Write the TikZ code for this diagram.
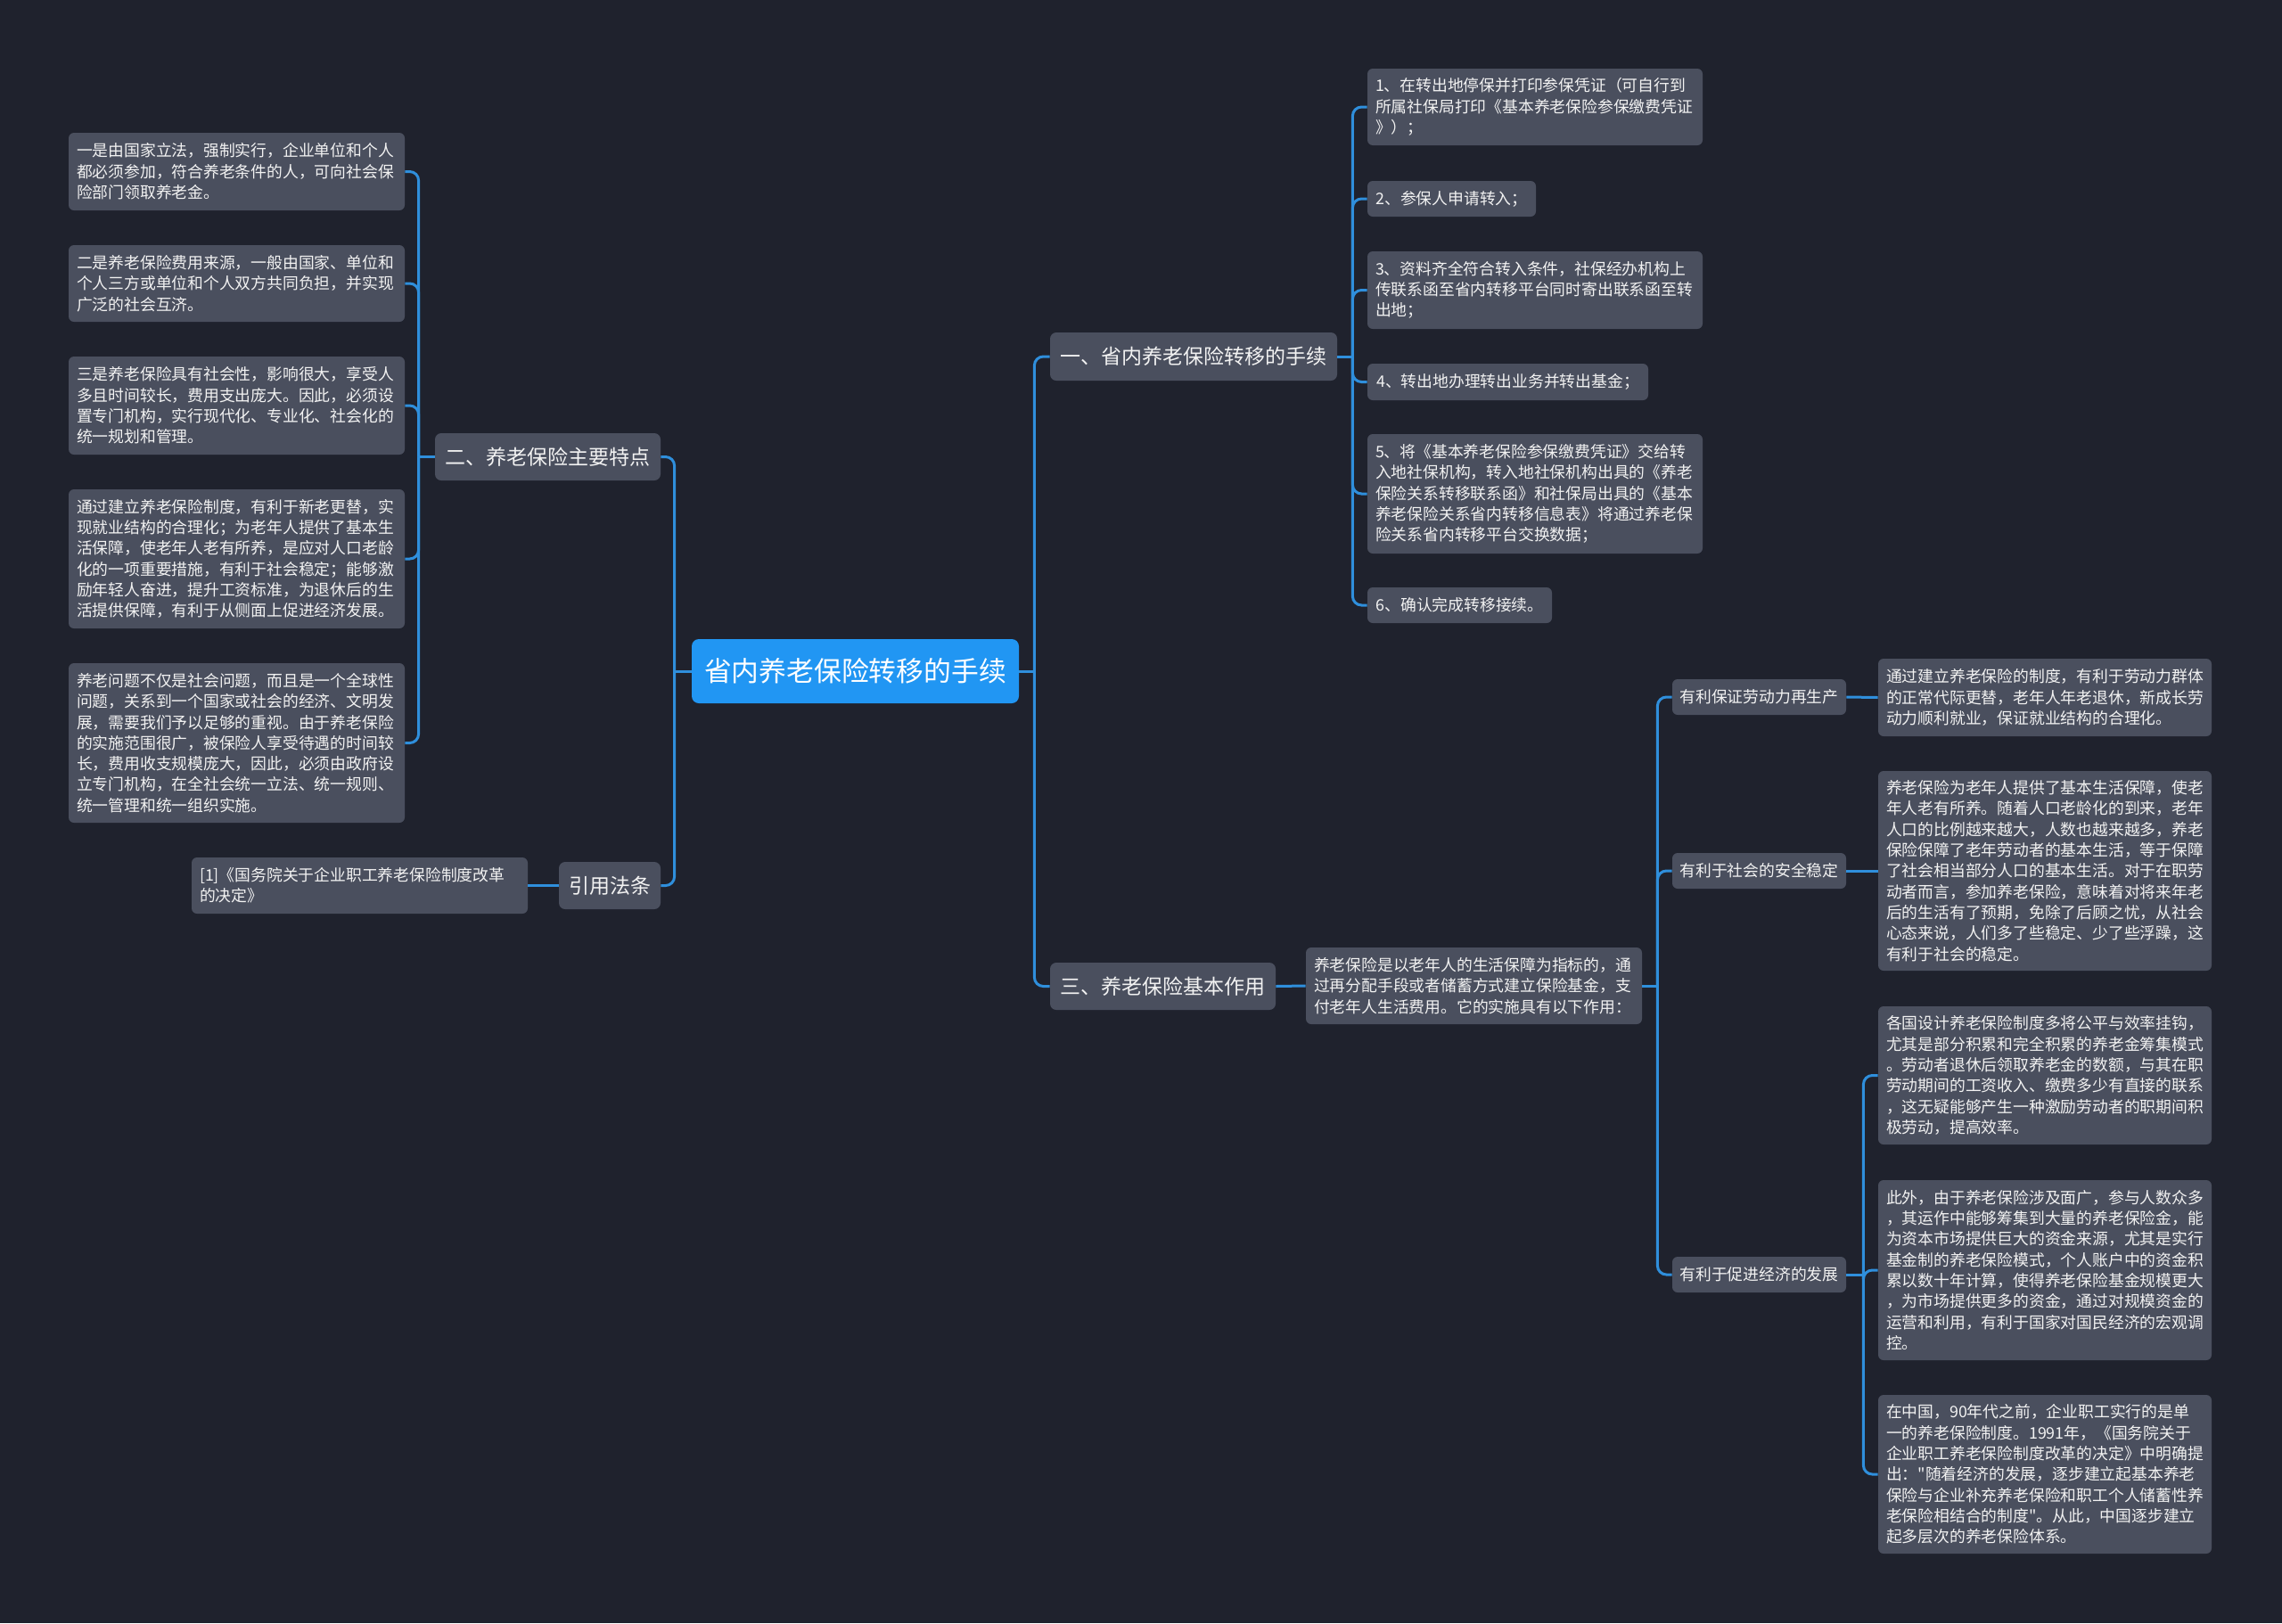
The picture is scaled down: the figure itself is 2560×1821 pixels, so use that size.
\documentclass[tikz,border=0pt]{standalone}
\usepackage{fontspec}
\setmainfont{Noto Sans CJK SC}[Ligatures=TeXOff]
\definecolor{bgc}{HTML}{1F222D}
\definecolor{boxc}{HTML}{4A4F5E}
\definecolor{rootc}{HTML}{2196F3}
\definecolor{linec}{HTML}{2F8FDC}
\definecolor{txtc}{HTML}{F2F2F2}
\tikzset{
  box/.style={fill=boxc, rounded corners=3pt, text=txtc, align=left,
    inner xsep=4.5pt, inner ysep=2pt, font=\fontsize{8.9pt}{11.65pt}\selectfont},
  lbl/.style={fill=boxc, rounded corners=3pt, text=txtc, inner xsep=2pt, inner ysep=2pt,
    font=\fontsize{8.9pt}{11.65pt}\selectfont},
  brn/.style={fill=boxc, rounded corners=3.5pt, text=txtc, inner xsep=2pt, inner ysep=2pt,
    font=\fontsize{11.5pt}{14pt}\selectfont},
  rootn/.style={fill=rootc, rounded corners=4pt, text=white, inner xsep=2pt, inner ysep=2pt,
    font=\fontsize{15.4pt}{18pt}\selectfont},
  conn/.style={draw=linec, line width=1.5pt, rounded corners=5pt},
}
\begin{document}
\begin{tikzpicture}[x=0.5pt,y=-0.5pt]
\fill[bgc] (0,0) rectangle (2560,1821);
\useasboundingbox (0,0) rectangle (2560,1821);

% root
\node[rootn, minimum width=183.5pt, minimum height=36pt] (root) at (959.5,753) {省内养老保险转移的手续};

% left branches
\node[brn, minimum width=126.5pt, minimum height=26.5pt] (b2) at (614.5,512.5) {二、养老保险主要特点};
\node[brn, minimum width=57pt, minimum height=26.5pt] (bref) at (684,993.5) {引用法条};

\node[box, text width=179.5pt, minimum height=43.5pt] (l1) at (265.5,192.5) {一是由国家立法，强制实行，企业单位和个人\\都必须参加，符合养老条件的人，可向社会保\\险部门领取养老金。};
\node[box, text width=179.5pt, minimum height=43pt] (l2) at (265.5,318) {二是养老保险费用来源，一般由国家、单位和\\个人三方或单位和个人双方共同负担，并实现\\广泛的社会互济。};
\node[box, text width=179.5pt, minimum height=55pt] (l3) at (265.5,455) {三是养老保险具有社会性，影响很大，享受人\\多且时间较长，费用支出庞大。因此，必须设\\置专门机构，实行现代化、专业化、社会化的\\统一规划和管理。};
\node[box, text width=179.5pt, minimum height=78pt] (l4) at (265.5,627) {通过建立养老保险制度，有利于新老更替，实\\现就业结构的合理化；为老年人提供了基本生\\活保障，使老年人老有所养，是应对人口老龄\\化的一项重要措施，有利于社会稳定；能够激\\励年轻人奋进，提升工资标准，为退休后的生\\活提供保障，有利于从侧面上促进经济发展。};
\node[box, text width=179.5pt, minimum height=89.5pt] (l5) at (265.5,833.5) {养老问题不仅是社会问题，而且是一个全球性\\问题，关系到一个国家或社会的经济、文明发\\展，需要我们予以足够的重视。由于养老保险\\的实施范围很广，被保险人享受待遇的时间较\\长，费用收支规模庞大，因此，必须由政府设\\立专门机构，在全社会统一立法、统一规则、\\统一管理和统一组织实施。};
\node[box, text width=179.5pt, minimum height=31.5pt] (ref) at (403.5,993.5) {[1]《国务院关于企业职工养老保险制度改革\\的决定》};

% right branch one
\node[brn, minimum width=161pt, minimum height=27pt] (b1) at (1339,400) {一、省内养老保险转移的手续};
\node[box, text width=179pt, minimum height=43pt] (s1) at (1722,120) {1、在转出地停保并打印参保凭证（可自行到\\所属社保局打印《基本养老保险参保缴费凭证\\》）；};
\node[lbl, minimum width=94.5pt, minimum height=20pt] (s2) at (1628.5,223) {2、参保人申请转入；};
\node[box, text width=179pt, minimum height=43.5pt] (s3) at (1722,325.5) {3、资料齐全符合转入条件，社保经办机构上\\传联系函至省内转移平台同时寄出联系函至转\\出地；};
\node[lbl, minimum width=157.5pt, minimum height=20.5pt] (s4) at (1691.5,428.5) {4、转出地办理转出业务并转出基金；};
\node[box, text width=179pt, minimum height=67pt] (s5) at (1722,554) {5、将《基本养老保险参保缴费凭证》交给转\\入地社保机构，转入地社保机构出具的《养老\\保险关系转移联系函》和社保局出具的《基本\\养老保险关系省内转移信息表》将通过养老保\\险关系省内转移平台交换数据；};
\node[lbl, minimum width=103.5pt, minimum height=20pt] (s6) at (1637.5,679) {6、确认完成转移接续。};

% right branch three
\node[brn, minimum width=126.5pt, minimum height=26.5pt] (b3) at (1304.5,1106.5) {三、养老保险基本作用};
\node[box, text width=179.5pt, minimum height=43pt] (intro) at (1653.5,1106) {养老保险是以老年人的生活保障为指标的，通\\过再分配手段或者储蓄方式建立保险基金，支\\付老年人生活费用。它的实施具有以下作用：};
\node[lbl, minimum width=97.5pt, minimum height=20pt] (a1) at (1973.5,782) {有利保证劳动力再生产};
\node[lbl, minimum width=97.5pt, minimum height=20pt] (a2) at (1973.5,977) {有利于社会的安全稳定};
\node[lbl, minimum width=97.5pt, minimum height=20pt] (a3) at (1973.5,1430) {有利于促进经济的发展};
\node[box, text width=178pt, minimum height=43.5pt] (d1) at (2294,782.5) {通过建立养老保险的制度，有利于劳动力群体\\的正常代际更替，老年人年老退休，新成长劳\\动力顺利就业，保证就业结构的合理化。};
\node[box, text width=178pt, minimum height=112pt] (d2) at (2294,977) {养老保险为老年人提供了基本生活保障，使老\\年人老有所养。随着人口老龄化的到来，老年\\人口的比例越来越大，人数也越来越多，养老\\保险保障了老年劳动者的基本生活，等于保障\\了社会相当部分人口的基本生活。对于在职劳\\动者而言，参加养老保险，意味着对将来年老\\后的生活有了预期，免除了后顾之忧，从社会\\心态来说，人们多了些稳定、少了些浮躁，这\\有利于社会的稳定。};
\node[box, text width=178pt, minimum height=77.5pt] (e1) at (2294,1206.5) {各国设计养老保险制度多将公平与效率挂钩，\\尤其是部分积累和完全积累的养老金筹集模式\\。劳动者退休后领取养老金的数额，与其在职\\劳动期间的工资收入、缴费多少有直接的联系\\，这无疑能够产生一种激励劳动者的职期间积\\极劳动，提高效率。};
\node[box, text width=178pt, minimum height=101pt] (e2) at (2294,1425) {此外，由于养老保险涉及面广，参与人数众多\\，其运作中能够筹集到大量的养老保险金，能\\为资本市场提供巨大的资金来源，尤其是实行\\基金制的养老保险模式，个人账户中的资金积\\累以数十年计算，使得养老保险基金规模更大\\，为市场提供更多的资金，通过对规模资金的\\运营和利用，有利于国家对国民经济的宏观调\\控。};
\node[box, text width=178pt, minimum height=89pt] (e3) at (2294,1654) {在中国，90年代之前，企业职工实行的是单\\一的养老保险制度。1991年，《国务院关于\\企业职工养老保险制度改革的决定》中明确提\\出："随着经济的发展，逐步建立起基本养老\\保险与企业补充养老保险和职工个人储蓄性养\\老保险相结合的制度"。从此，中国逐步建立\\起多层次的养老保险体系。};

% connectors: root
\draw[conn] (root.east) -- ++(17,0);
\draw[conn] (root.east) ++(17,0) |- (b1.west);
\draw[conn] (root.east) ++(17,0) |- (b3.west);
\draw[conn] (root.west) -- ++(-19,0);
\draw[conn] (root.west) ++(-19,0) |- (b2.east);
\draw[conn] (root.west) ++(-19,0) |- (bref.east);
% branch two
\draw[conn] (b2.west) -- ++(-18,0);
\foreach \c in {l1,l2,l3,l4,l5} \draw[conn] (b2.west) ++(-18,0) |- (\c.east);
\draw[conn] (bref.west) -- (ref.east);
% branch one
\draw[conn] (b1.east) -- ++(17,0);
\foreach \c in {s1,s2,s3,s4,s5,s6} \draw[conn] (b1.east) ++(17,0) |- (\c.west);
% branch three
\draw[conn] (b3.east) -- (intro.west);
\draw[conn] (intro.east) -- ++(17,0);
\foreach \c in {a1,a2,a3} \draw[conn] (intro.east) ++(17,0) |- (\c.west);
\draw[conn] (a1.east) -- (d1.west);
\draw[conn] (a2.east) -- (d2.west);
\draw[conn] (a3.east) -- ++(19,0);
\foreach \c in {e1,e2,e3} \draw[conn] (a3.east) ++(19,0) |- (\c.west);
\end{tikzpicture}
\end{document}
